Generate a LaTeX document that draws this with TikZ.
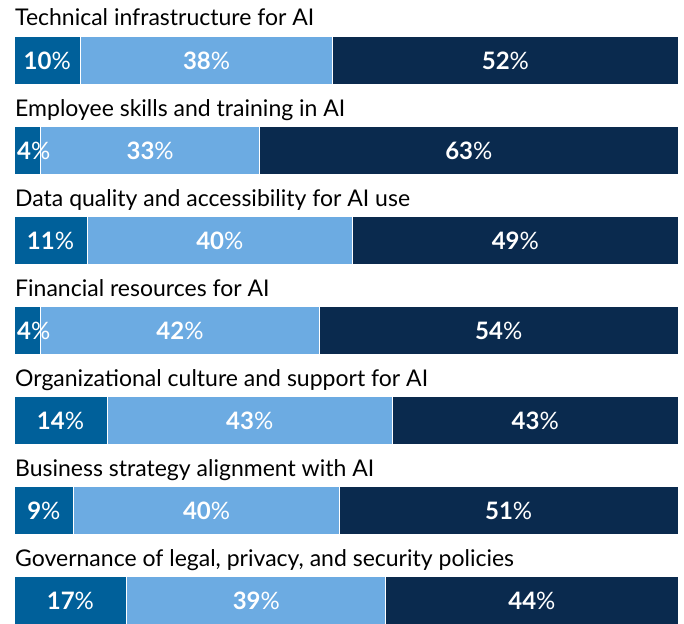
\documentclass[tikz,border=0pt]{standalone}
\usepackage{fontspec}
\setmainfont{Lato}

\definecolor{lowblue}{HTML}{00609A}
\definecolor{midblue}{HTML}{6CABE2}
\definecolor{highblue}{HTML}{0A2A4E}

\tikzset{
    seg/.style={draw=white, line width=0.8pt},
    pct/.style={text=white, inner sep=0pt, font=\fontsize{24}{24}\selectfont},
    lab/.style={anchor=base west, inner sep=0pt, font=\fontsize{23}{23}\selectfont},
}

\begin{document}
\begin{tikzpicture}[x=1pt, y=-1pt]
        \useasboundingbox (0, 0) rectangle (684, 623);

        \foreach \n/\t/\a/\b/\c in {
            1/Technical infrastructure for AI/10/38/52,
            2/Employee skills and training in AI/4/33/63,
            3/Data quality and accessibility for AI use/11/40/49,
            4/Financial resources for AI/4/42/54,
            5/Organizational culture and support for AI/14/43/43,
            6/Business strategy alignment with AI/9/40/51,
            7/{Governance of legal, privacy, and security policies}/17/39/44} {
            \pgfmathsetmacro\top{36 + 90*(\n - 1)}
            \pgfmathsetmacro\xa{14 + 6.64*\a}
            \pgfmathsetmacro\xb{14 + 6.64*(\a + \b)}

            \node[lab] (lab\n) at (15, \top - 10) {\t};

            \fill[lowblue, seg] (14, \top) rectangle (\xa, \top + 48);
            \fill[midblue, seg] (\xa, \top) rectangle (\xb, \top + 48);
            \fill[highblue, seg] (\xb, \top) rectangle (678, \top + 48);

            \ifnum\a<6
                \node[pct, anchor=west] (pa\n) at (17, \top + 25) {{\bfseries\a}\%};
            \else
                \node[pct] (pa\n) at ({(14 + \xa)/2}, \top + 25) {{\bfseries\a}\%};
            \fi
            \node[pct] (pb\n) at ({(\xa + \xb)/2}, \top + 25) {{\bfseries\b}\%};
            \node[pct] (pc\n) at ({(\xb + 678)/2}, \top + 25) {{\bfseries\c}\%};
        }
    \end{tikzpicture}
\end{document}
